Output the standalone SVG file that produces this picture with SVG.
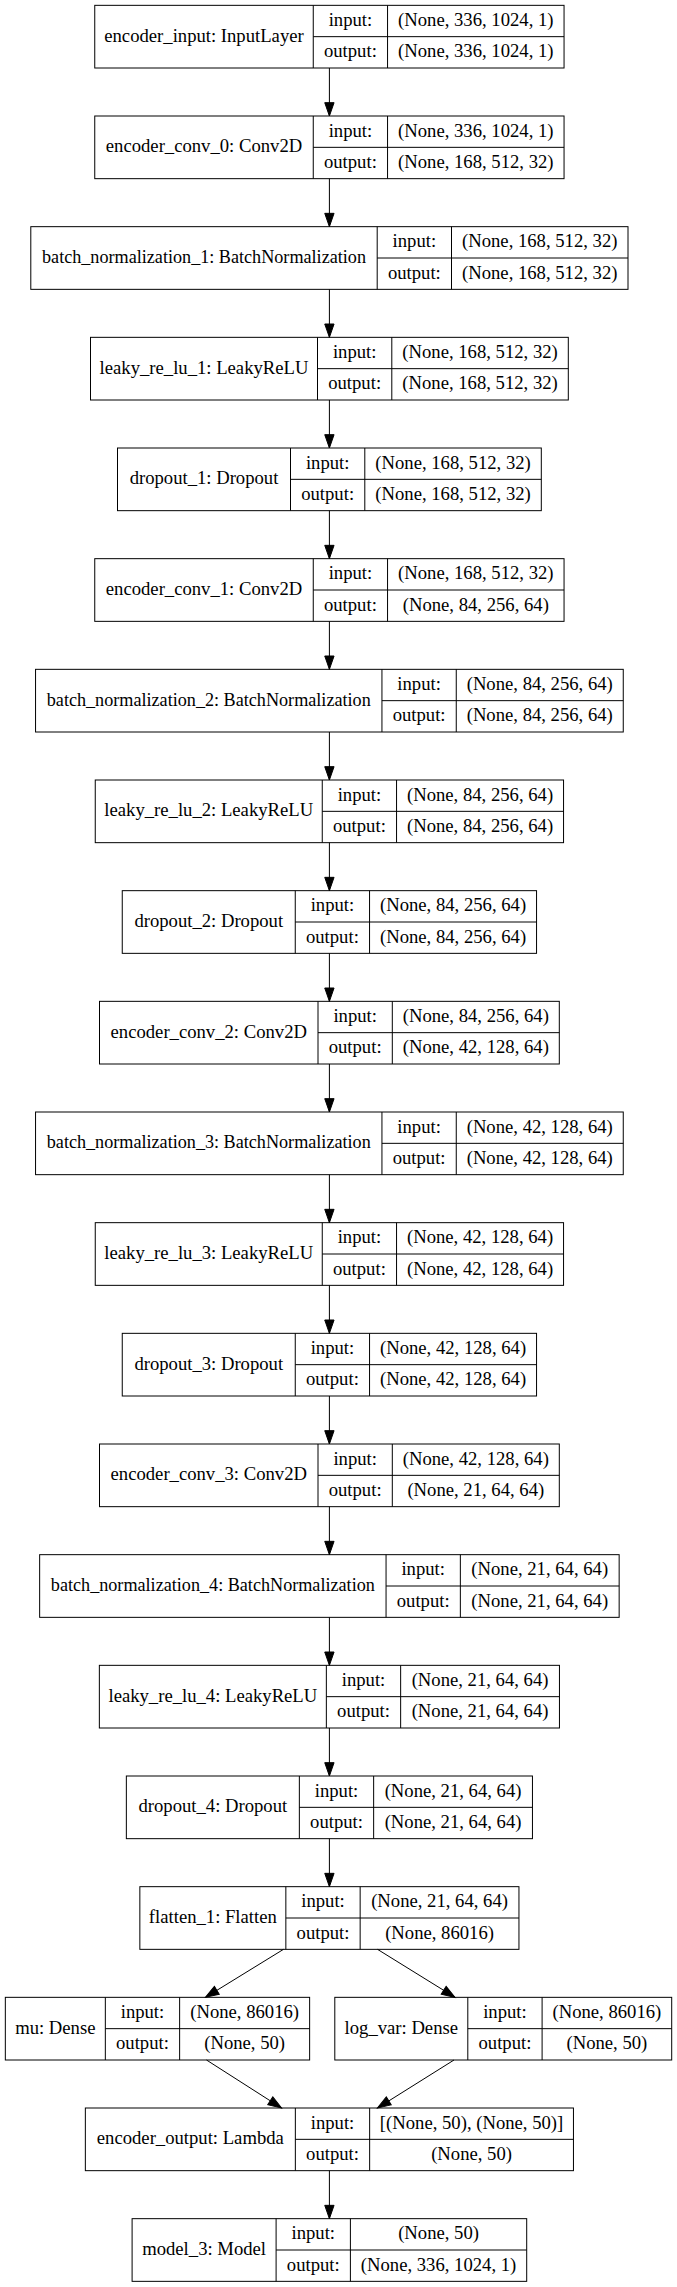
<svg xmlns="http://www.w3.org/2000/svg" width="677" height="2287" viewBox="0 0 677 2287">
<style>
.box{fill:#fff;stroke:#000;stroke-width:1}
.sep{stroke:#000;stroke-width:1;fill:none}
text{font-family:"Liberation Serif","Times New Roman",serif;font-size:18.67px;fill:#000;text-anchor:middle}
.edge{stroke:#000;stroke-width:1;fill:none;marker-end:url(#arr)}
</style>
<defs>
<marker id="arr" markerUnits="userSpaceOnUse" markerWidth="14" markerHeight="10" refX="13.33" refY="4.67" orient="auto" overflow="visible">
<path d="M0,0 L13.33,4.67 L0,9.33 Z" fill="#000" stroke="#000" stroke-width="1"/>
</marker>
</defs>
<rect width="677" height="2287" fill="#fff"/>

<g id="n0">
<rect class="box" x="94.75" y="5.33" width="469.3" height="62.67"/>
<path class="sep" d="M313.25,5.33V68M387.55,5.33V68M313.25,36.67H564.05"/>
<text x="204" y="41.67">encoder_input: InputLayer</text>
<text x="350.4" y="26">input:</text><text x="350.4" y="57.33">output:</text>
<text x="475.8" y="26">(None, 336, 1024, 1)</text><text x="475.8" y="57.33">(None, 336, 1024, 1)</text>
</g>

<g id="n1">
<rect class="box" x="94.75" y="116" width="469.3" height="62.67"/>
<path class="sep" d="M313.25,116V178.67M387.55,116V178.67M313.25,147.33H564.05"/>
<text x="204" y="152.33">encoder_conv_0: Conv2D</text>
<text x="350.4" y="136.67">input:</text><text x="350.4" y="168">output:</text>
<text x="475.8" y="136.67">(None, 336, 1024, 1)</text><text x="475.8" y="168">(None, 168, 512, 32)</text>
</g>

<g id="n2">
<rect class="box" x="30.8" y="226.67" width="597.2" height="62.67"/>
<path class="sep" d="M377.2,226.67V289.33M451.5,226.67V289.33M377.2,258H628"/>
<text x="204" y="263" textLength="324" lengthAdjust="spacingAndGlyphs">batch_normalization_1: BatchNormalization</text>
<text x="414.35" y="247.33">input:</text><text x="414.35" y="278.67">output:</text>
<text x="539.75" y="247.33">(None, 168, 512, 32)</text><text x="539.75" y="278.67">(None, 168, 512, 32)</text>
</g>

<g id="n3">
<rect class="box" x="90.5" y="337.33" width="477.8" height="62.67"/>
<path class="sep" d="M317.5,337.33V400M391.8,337.33V400M317.5,368.67H568.3"/>
<text x="204" y="373.67">leaky_re_lu_1: LeakyReLU</text>
<text x="354.65" y="358">input:</text><text x="354.65" y="389.33">output:</text>
<text x="480.05" y="358">(None, 168, 512, 32)</text><text x="480.05" y="389.33">(None, 168, 512, 32)</text>
</g>

<g id="n4">
<rect class="box" x="117.5" y="448" width="423.8" height="62.67"/>
<path class="sep" d="M290.5,448V510.67M364.8,448V510.67M290.5,479.33H541.3"/>
<text x="204" y="484.33">dropout_1: Dropout</text>
<text x="327.65" y="468.67">input:</text><text x="327.65" y="500">output:</text>
<text x="453.05" y="468.67">(None, 168, 512, 32)</text><text x="453.05" y="500">(None, 168, 512, 32)</text>
</g>

<g id="n5">
<rect class="box" x="94.75" y="558.67" width="469.3" height="62.67"/>
<path class="sep" d="M313.25,558.67V621.33M387.55,558.67V621.33M313.25,590H564.05"/>
<text x="204" y="595">encoder_conv_1: Conv2D</text>
<text x="350.4" y="579.33">input:</text><text x="350.4" y="610.67">output:</text>
<text x="475.8" y="579.33">(None, 168, 512, 32)</text><text x="475.8" y="610.67">(None, 84, 256, 64)</text>
</g>

<g id="n6">
<rect class="box" x="35.55" y="669.33" width="587.7" height="62.67"/>
<path class="sep" d="M381.95,669.33V732M456.25,669.33V732M381.95,700.67H623.25"/>
<text x="208.75" y="705.67" textLength="324" lengthAdjust="spacingAndGlyphs">batch_normalization_2: BatchNormalization</text>
<text x="419.1" y="690">input:</text><text x="419.1" y="721.33">output:</text>
<text x="539.75" y="690">(None, 84, 256, 64)</text><text x="539.75" y="721.33">(None, 84, 256, 64)</text>
</g>

<g id="n7">
<rect class="box" x="95.25" y="780" width="468.3" height="62.67"/>
<path class="sep" d="M322.25,780V842.67M396.55,780V842.67M322.25,811.33H563.55"/>
<text x="208.75" y="816.33">leaky_re_lu_2: LeakyReLU</text>
<text x="359.4" y="800.67">input:</text><text x="359.4" y="832">output:</text>
<text x="480.05" y="800.67">(None, 84, 256, 64)</text><text x="480.05" y="832">(None, 84, 256, 64)</text>
</g>

<g id="n8">
<rect class="box" x="122.25" y="890.67" width="414.3" height="62.67"/>
<path class="sep" d="M295.25,890.67V953.33M369.55,890.67V953.33M295.25,922H536.55"/>
<text x="208.75" y="927">dropout_2: Dropout</text>
<text x="332.4" y="911.33">input:</text><text x="332.4" y="942.67">output:</text>
<text x="453.05" y="911.33">(None, 84, 256, 64)</text><text x="453.05" y="942.67">(None, 84, 256, 64)</text>
</g>

<g id="n9">
<rect class="box" x="99.5" y="1001.33" width="459.8" height="62.67"/>
<path class="sep" d="M318,1001.33V1064M392.3,1001.33V1064M318,1032.67H559.3"/>
<text x="208.75" y="1037.67">encoder_conv_2: Conv2D</text>
<text x="355.15" y="1022">input:</text><text x="355.15" y="1053.33">output:</text>
<text x="475.8" y="1022">(None, 84, 256, 64)</text><text x="475.8" y="1053.33">(None, 42, 128, 64)</text>
</g>

<g id="n10">
<rect class="box" x="35.55" y="1112" width="587.7" height="62.67"/>
<path class="sep" d="M381.95,1112V1174.67M456.25,1112V1174.67M381.95,1143.33H623.25"/>
<text x="208.75" y="1148.33" textLength="324" lengthAdjust="spacingAndGlyphs">batch_normalization_3: BatchNormalization</text>
<text x="419.1" y="1132.67">input:</text><text x="419.1" y="1164">output:</text>
<text x="539.75" y="1132.67">(None, 42, 128, 64)</text><text x="539.75" y="1164">(None, 42, 128, 64)</text>
</g>

<g id="n11">
<rect class="box" x="95.25" y="1222.67" width="468.3" height="62.67"/>
<path class="sep" d="M322.25,1222.67V1285.33M396.55,1222.67V1285.33M322.25,1254H563.55"/>
<text x="208.75" y="1259">leaky_re_lu_3: LeakyReLU</text>
<text x="359.4" y="1243.33">input:</text><text x="359.4" y="1274.67">output:</text>
<text x="480.05" y="1243.33">(None, 42, 128, 64)</text><text x="480.05" y="1274.67">(None, 42, 128, 64)</text>
</g>

<g id="n12">
<rect class="box" x="122.25" y="1333.33" width="414.3" height="62.67"/>
<path class="sep" d="M295.25,1333.33V1396M369.55,1333.33V1396M295.25,1364.67H536.55"/>
<text x="208.75" y="1369.67">dropout_3: Dropout</text>
<text x="332.4" y="1354">input:</text><text x="332.4" y="1385.33">output:</text>
<text x="453.05" y="1354">(None, 42, 128, 64)</text><text x="453.05" y="1385.33">(None, 42, 128, 64)</text>
</g>

<g id="n13">
<rect class="box" x="99.5" y="1444" width="459.8" height="62.67"/>
<path class="sep" d="M318,1444V1506.67M392.3,1444V1506.67M318,1475.33H559.3"/>
<text x="208.75" y="1480.33">encoder_conv_3: Conv2D</text>
<text x="355.15" y="1464.67">input:</text><text x="355.15" y="1496">output:</text>
<text x="475.8" y="1464.67">(None, 42, 128, 64)</text><text x="475.8" y="1496">(None, 21, 64, 64)</text>
</g>

<g id="n14">
<rect class="box" x="39.65" y="1554.67" width="579.5" height="62.67"/>
<path class="sep" d="M386.05,1554.67V1617.33M460.35,1554.67V1617.33M386.05,1586H619.15"/>
<text x="212.85" y="1591" textLength="324" lengthAdjust="spacingAndGlyphs">batch_normalization_4: BatchNormalization</text>
<text x="423.2" y="1575.33">input:</text><text x="423.2" y="1606.67">output:</text>
<text x="539.75" y="1575.33">(None, 21, 64, 64)</text><text x="539.75" y="1606.67">(None, 21, 64, 64)</text>
</g>

<g id="n15">
<rect class="box" x="99.35" y="1665.33" width="460.1" height="62.67"/>
<path class="sep" d="M326.35,1665.33V1728M400.65,1665.33V1728M326.35,1696.67H559.45"/>
<text x="212.85" y="1701.67">leaky_re_lu_4: LeakyReLU</text>
<text x="363.5" y="1686">input:</text><text x="363.5" y="1717.33">output:</text>
<text x="480.05" y="1686">(None, 21, 64, 64)</text><text x="480.05" y="1717.33">(None, 21, 64, 64)</text>
</g>

<g id="n16">
<rect class="box" x="126.35" y="1776" width="406.1" height="62.67"/>
<path class="sep" d="M299.35,1776V1838.67M373.65,1776V1838.67M299.35,1807.33H532.45"/>
<text x="212.85" y="1812.33">dropout_4: Dropout</text>
<text x="336.5" y="1796.67">input:</text><text x="336.5" y="1828">output:</text>
<text x="453.05" y="1796.67">(None, 21, 64, 64)</text><text x="453.05" y="1828">(None, 21, 64, 64)</text>
</g>

<g id="n17">
<rect class="box" x="139.85" y="1886.67" width="379.1" height="62.67"/>
<path class="sep" d="M285.85,1886.67V1949.33M360.15,1886.67V1949.33M285.85,1918H518.95"/>
<text x="212.85" y="1923">flatten_1: Flatten</text>
<text x="323" y="1907.33">input:</text><text x="323" y="1938.67">output:</text>
<text x="439.55" y="1907.33">(None, 21, 64, 64)</text><text x="439.55" y="1938.67">(None, 86016)</text>
</g>

<g id="n18">
<rect class="box" x="5.33" y="1997.33" width="304.3" height="62.67"/>
<path class="sep" d="M105.33,1997.33V2060M179.63,1997.33V2060M105.33,2028.67H309.63"/>
<text x="55.33" y="2033.67">mu: Dense</text>
<text x="142.48" y="2018">input:</text><text x="142.48" y="2049.33">output:</text>
<text x="244.63" y="2018">(None, 86016)</text><text x="244.63" y="2049.33">(None, 50)</text>
</g>

<g id="n19">
<rect class="box" x="334.8" y="1997.33" width="336.9" height="62.67"/>
<path class="sep" d="M467.8,1997.33V2060M542.1,1997.33V2060M467.8,2028.67H671.7"/>
<text x="401.3" y="2033.67">log_var: Dense</text>
<text x="504.95" y="2018">input:</text><text x="504.95" y="2049.33">output:</text>
<text x="606.9" y="2018">(None, 86016)</text><text x="606.9" y="2049.33">(None, 50)</text>
</g>

<g id="n20">
<rect class="box" x="85.35" y="2108" width="488.1" height="62.67"/>
<path class="sep" d="M295.35,2108V2170.67M369.65,2108V2170.67M295.35,2139.33H573.45"/>
<text x="190.35" y="2144.33">encoder_output: Lambda</text>
<text x="332.5" y="2128.67">input:</text><text x="332.5" y="2160">output:</text>
<text x="471.55" y="2128.67">[(None, 50), (None, 50)]</text><text x="471.55" y="2160">(None, 50)</text>
</g>

<g id="n21">
<rect class="box" x="132.1" y="2218.67" width="394.6" height="62.67"/>
<path class="sep" d="M276.1,2218.67V2281.33M350.4,2218.67V2281.33M276.1,2250H526.7"/>
<text x="204.1" y="2255">model_3: Model</text>
<text x="313.25" y="2239.33">input:</text><text x="313.25" y="2270.67">output:</text>
<text x="438.55" y="2239.33">(None, 50)</text><text x="438.55" y="2270.67">(None, 336, 1024, 1)</text>
</g>

<g id="edges">
<line class="edge" x1="329.4" y1="68" x2="329.4" y2="116"/>
<line class="edge" x1="329.4" y1="178.67" x2="329.4" y2="226.67"/>
<line class="edge" x1="329.4" y1="289.33" x2="329.4" y2="337.33"/>
<line class="edge" x1="329.4" y1="400" x2="329.4" y2="448"/>
<line class="edge" x1="329.4" y1="510.67" x2="329.4" y2="558.67"/>
<line class="edge" x1="329.4" y1="621.33" x2="329.4" y2="669.33"/>
<line class="edge" x1="329.4" y1="732" x2="329.4" y2="780"/>
<line class="edge" x1="329.4" y1="842.67" x2="329.4" y2="890.67"/>
<line class="edge" x1="329.4" y1="953.33" x2="329.4" y2="1001.33"/>
<line class="edge" x1="329.4" y1="1064" x2="329.4" y2="1112"/>
<line class="edge" x1="329.4" y1="1174.67" x2="329.4" y2="1222.67"/>
<line class="edge" x1="329.4" y1="1285.33" x2="329.4" y2="1333.33"/>
<line class="edge" x1="329.4" y1="1396" x2="329.4" y2="1444"/>
<line class="edge" x1="329.4" y1="1506.67" x2="329.4" y2="1554.67"/>
<line class="edge" x1="329.4" y1="1617.33" x2="329.4" y2="1665.33"/>
<line class="edge" x1="329.4" y1="1728" x2="329.4" y2="1776"/>
<line class="edge" x1="329.4" y1="1838.67" x2="329.4" y2="1886.67"/>
<line class="edge" x1="283.5" y1="1949.33" x2="205.5" y2="1997.33"/>
<line class="edge" x1="377.5" y1="1949.33" x2="455" y2="1997.33"/>
<line class="edge" x1="206.5" y1="2060" x2="281.5" y2="2108"/>
<line class="edge" x1="454" y1="2060" x2="377.5" y2="2108"/>
<line class="edge" x1="329.4" y1="2170.67" x2="329.4" y2="2218.67"/>
</g>
</svg>
